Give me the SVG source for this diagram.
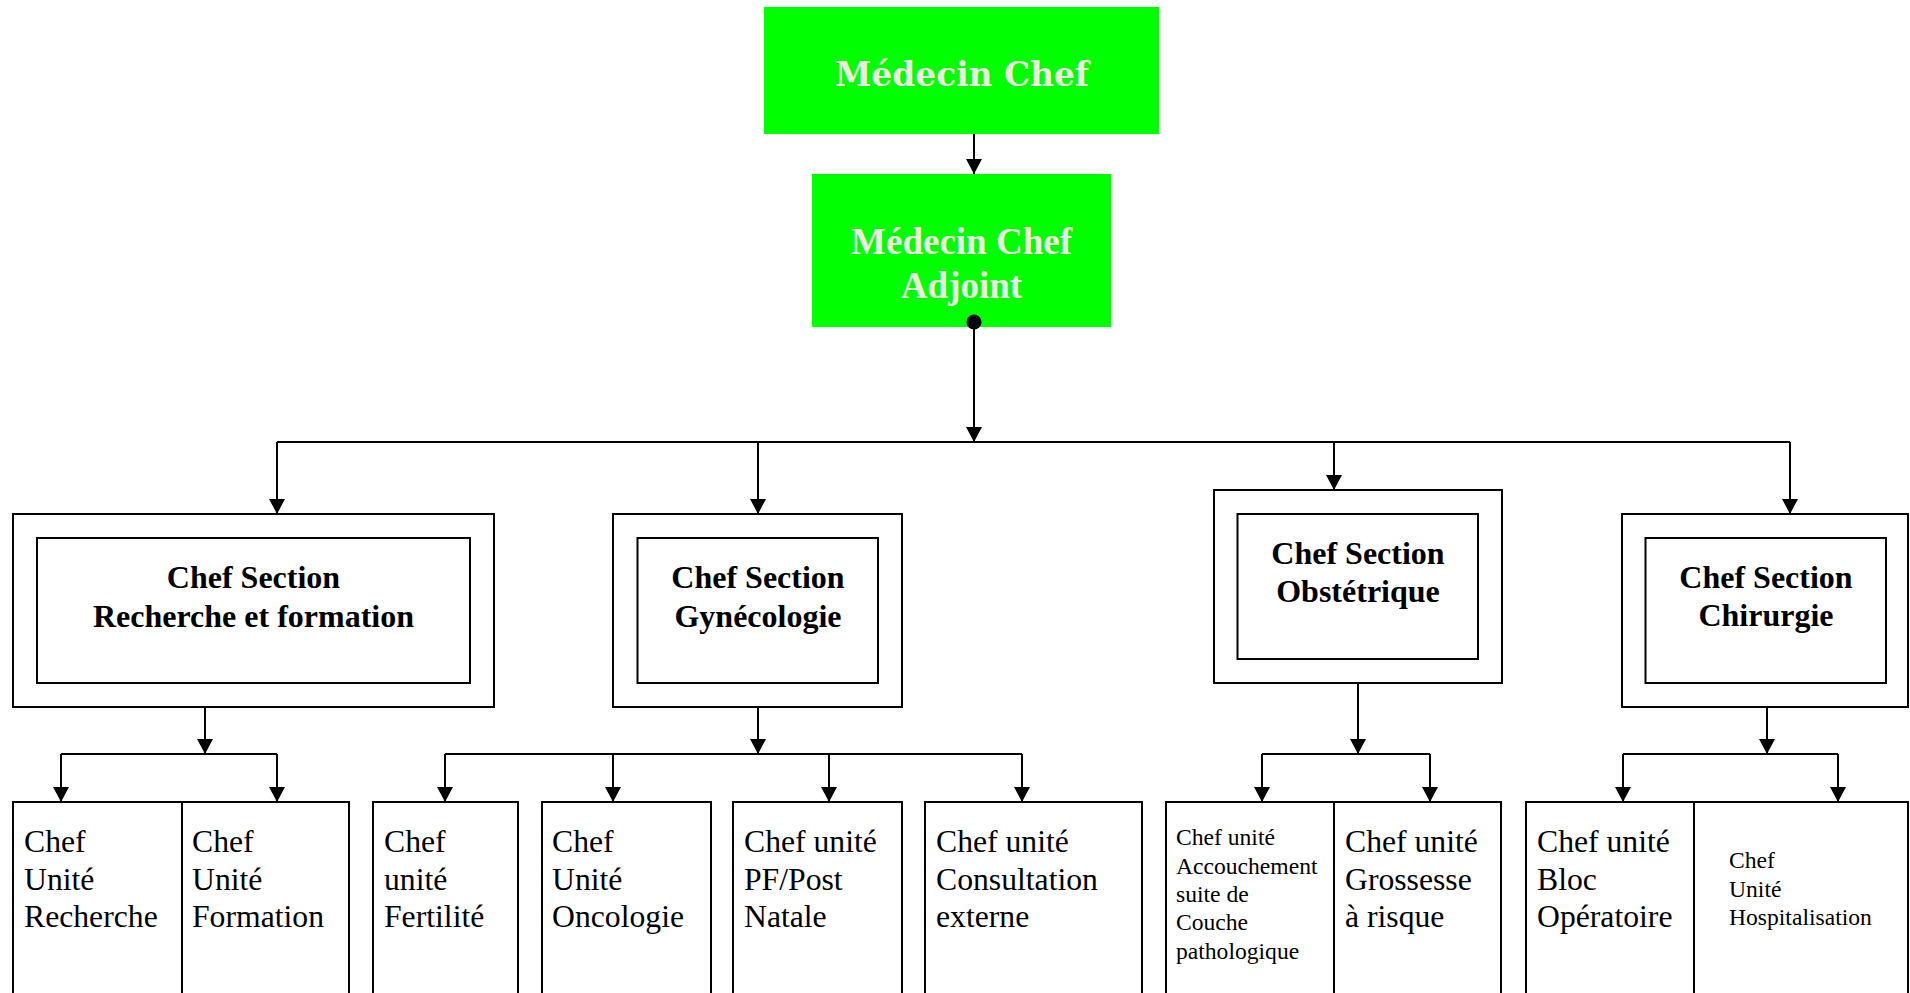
<svg xmlns="http://www.w3.org/2000/svg" width="1910" height="993" viewBox="0 0 1910 993">
<style>
.box{fill:#fff;stroke:#000;stroke-width:2}
.green{fill:#00ff00;stroke:none}
.ln{fill:none;stroke:#000;stroke-width:2}
.arr{marker-end:url(#ah)}
.top{font-family:"DejaVu Serif","Liberation Serif",serif;font-weight:bold;fill:#EEECE1;text-anchor:middle}
.adj{font-family:"Liberation Serif",serif;font-weight:bold;font-size:37px;fill:#EEECE1;text-anchor:middle}
.sec{font-family:"Liberation Serif",serif;font-weight:bold;font-size:32px;fill:#000;text-anchor:middle}
.big{font-family:"Liberation Serif",serif;font-size:31.7px;fill:#000}
.sm{font-family:"Liberation Serif",serif;font-size:23.6px;fill:#000}
</style>
<defs>
<marker id="ah" viewBox="0 0 15 16" refX="15" refY="8" markerWidth="15" markerHeight="16" markerUnits="userSpaceOnUse" orient="auto">
<path d="M0,0 L15,8 L0,16 z" fill="#000"/>
</marker>
</defs>
<rect width="1910" height="993" fill="#fff"/>

<g id="connectors">
<line class="ln arr" x1="974" y1="134" x2="974" y2="174"/>
<line class="ln arr" x1="974" y1="322" x2="974" y2="442"/>
<polyline class="ln" points="277,442 1790,442"/>
<line class="ln arr" x1="277" y1="442" x2="277" y2="514"/>
<line class="ln arr" x1="758" y1="442" x2="758" y2="514"/>
<line class="ln arr" x1="1334" y1="442" x2="1334" y2="490"/>
<line class="ln arr" x1="1790" y1="442" x2="1790" y2="514"/>

<line class="ln arr" x1="205" y1="707" x2="205" y2="754"/>
<line class="ln" x1="61" y1="754" x2="277" y2="754"/>
<line class="ln arr" x1="61" y1="754" x2="61" y2="802"/>
<line class="ln arr" x1="277" y1="754" x2="277" y2="802"/>

<line class="ln arr" x1="758" y1="707" x2="758" y2="754"/>
<line class="ln" x1="445" y1="754" x2="1022" y2="754"/>
<line class="ln arr" x1="445" y1="754" x2="445" y2="802"/>
<line class="ln arr" x1="613" y1="754" x2="613" y2="802"/>
<line class="ln arr" x1="829" y1="754" x2="829" y2="802"/>
<line class="ln arr" x1="1022" y1="754" x2="1022" y2="802"/>

<line class="ln arr" x1="1358" y1="683" x2="1358" y2="754"/>
<line class="ln" x1="1262" y1="754" x2="1430" y2="754"/>
<line class="ln arr" x1="1262" y1="754" x2="1262" y2="802"/>
<line class="ln arr" x1="1430" y1="754" x2="1430" y2="802"/>

<line class="ln arr" x1="1767" y1="707" x2="1767" y2="754"/>
<line class="ln" x1="1623" y1="754" x2="1838" y2="754"/>
<line class="ln arr" x1="1623" y1="754" x2="1623" y2="802"/>
<line class="ln arr" x1="1838" y1="754" x2="1838" y2="802"/>
</g>

<g id="medecin-chef">
<rect class="green" x="764" y="7" width="395" height="127"/>
<text class="top" x="962" y="86" font-size="33" textLength="254" lengthAdjust="spacingAndGlyphs">Médecin Chef</text>
</g>

<g id="medecin-chef-adjoint">
<rect class="green" x="812" y="174" width="299" height="153"/>
<text class="adj" x="961.5" y="254">Médecin Chef</text>
<text class="adj" x="961.5" y="298">Adjoint</text>
<circle cx="974" cy="322" r="7.5" fill="#000"/>
</g>

<g id="sec-recherche">
<rect class="box" x="13" y="514" width="481" height="193"/>
<rect class="box" x="37" y="538" width="433" height="145"/>
<text class="sec" x="253.5" y="588">Chef Section</text>
<text class="sec" x="253.5" y="627">Recherche et formation</text>
</g>

<g id="sec-gynecologie">
<rect class="box" x="613" y="514" width="289" height="193"/>
<rect class="box" x="637.5" y="538" width="240.5" height="145"/>
<text class="sec" x="758" y="588">Chef Section</text>
<text class="sec" x="758" y="627">Gynécologie</text>
</g>

<g id="sec-obstetrique">
<rect class="box" x="1214" y="490" width="288" height="193"/>
<rect class="box" x="1237.5" y="514" width="240.5" height="145"/>
<text class="sec" x="1358" y="564">Chef Section</text>
<text class="sec" x="1358" y="602">Obstétrique</text>
</g>

<g id="sec-chirurgie">
<rect class="box" x="1622" y="514" width="286" height="193"/>
<rect class="box" x="1645.5" y="538" width="240.5" height="145"/>
<text class="sec" x="1766" y="588">Chef Section</text>
<text class="sec" x="1766" y="626">Chirurgie</text>
</g>

<g id="u-recherche">
<rect class="box" x="13" y="802" width="169" height="200"/>
<text class="big" x="24" y="852">Chef</text>
<text class="big" x="24" y="890">Unité</text>
<text class="big" x="24" y="927">Recherche</text>
</g>
<g id="u-formation">
<rect class="box" x="182" y="802" width="167" height="200"/>
<text class="big" x="192" y="852">Chef</text>
<text class="big" x="192" y="890">Unité</text>
<text class="big" x="192" y="927">Formation</text>
</g>
<g id="u-fertilite">
<rect class="box" x="373" y="802" width="145" height="200"/>
<text class="big" x="384" y="852">Chef</text>
<text class="big" x="384" y="890">unité</text>
<text class="big" x="384" y="927">Fertilité</text>
</g>
<g id="u-oncologie">
<rect class="box" x="542" y="802" width="169" height="200"/>
<text class="big" x="552" y="852">Chef</text>
<text class="big" x="552" y="890">Unité</text>
<text class="big" x="552" y="927">Oncologie</text>
</g>
<g id="u-pf">
<rect class="box" x="733" y="802" width="169" height="200"/>
<text class="big" x="744" y="852">Chef unité</text>
<text class="big" x="744" y="890">PF/Post</text>
<text class="big" x="744" y="927">Natale</text>
</g>
<g id="u-consultation">
<rect class="box" x="925" y="802" width="217" height="200"/>
<text class="big" x="936" y="852">Chef unité</text>
<text class="big" x="936" y="890">Consultation</text>
<text class="big" x="936" y="927">externe</text>
</g>
<g id="u-accouchement">
<rect class="box" x="1166" y="802" width="168" height="200"/>
<text class="sm" x="1176" y="845">Chef unité</text>
<text class="sm" x="1176" y="874">Accouchement</text>
<text class="sm" x="1176" y="902">suite de</text>
<text class="sm" x="1176" y="930">Couche</text>
<text class="sm" x="1176" y="959">pathologique</text>
</g>
<g id="u-grossesse">
<rect class="box" x="1334" y="802" width="167" height="200"/>
<text class="big" x="1345" y="852">Chef unité</text>
<text class="big" x="1345" y="890">Grossesse</text>
<text class="big" x="1345" y="927">à risque</text>
</g>
<g id="u-bloc">
<rect class="box" x="1526" y="802" width="168" height="200"/>
<text class="big" x="1537" y="852">Chef unité</text>
<text class="big" x="1537" y="890">Bloc</text>
<text class="big" x="1537" y="927">Opératoire</text>
</g>
<g id="u-hospitalisation">
<rect class="box" x="1694" y="802" width="214" height="200"/>
<text class="sm" x="1729" y="868">Chef</text>
<text class="sm" x="1729" y="897">Unité</text>
<text class="sm" x="1729" y="925">Hospitalisation</text>
</g>
</svg>
